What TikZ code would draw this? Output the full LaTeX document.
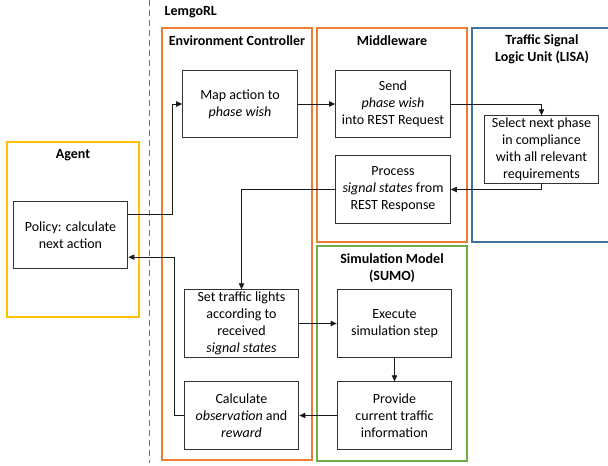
\documentclass[tikz,border=0pt]{standalone}
\usepackage{fontspec}
\setmainfont{Carlito}
\usepackage{tikz}
\usetikzlibrary{shapes, arrows.meta, positioning}
\usetikzlibrary{calc}

\definecolor{ecorange}{HTML}{ED7D31}
\definecolor{lisablue}{HTML}{41719C}
\definecolor{sumogreen}{HTML}{70AD47}
\definecolor{agentyellow}{HTML}{FFC000}

\begin{document}
\begin{tikzpicture}
  [
    x=0.75pt, y=-0.75pt,
    font=\fontsize{10.5}{12.8}\selectfont,
    Step/.style={rectangle, draw=black!80, line width=0.75pt, fill=white, align=center,
      minimum width=86pt, minimum height=50.5pt, inner sep=1pt},
    Group/.style={rectangle, draw=#1, line width=1.6pt, inner sep=0pt},
    Title/.style={font=\fontsize{10.5}{12.8}\selectfont\bfseries, align=center},
    Flow/.style={-{Triangle[length=4.5pt, width=4pt]}, draw, line width=0.6pt, black!90}
  ]
  \useasboundingbox (0,0) rectangle (608,465);
  % Frames
  \node[Group=ecorange, minimum width=112.5pt, minimum height=324pt] (envctrl) at (237,244) {};
  \node[Group=ecorange, minimum width=112.5pt, minimum height=160.5pt] (middleware) at (392,135) {};
  \node[Group=lisablue, minimum width=105pt, minimum height=160.5pt] (lisa) at (542,135) {};
  \node[Group=sumogreen, minimum width=112.5pt, minimum height=161.25pt] (sumo) at (392,353.5) {};
  \node[Group=agentyellow, minimum width=99pt, minimum height=131.25pt] (agent) at (73,229.5) {};
  \coordinate (sepTop) at (149.5,0);
  \coordinate (sepBot) at (149.5,463);
  \path [draw, black!55, line width=1pt, dash pattern=on 4.5pt off 3pt] (sepTop) -- (sepBot);
  % Titles
  \node[Title, anchor=west] (lemgo) at (160,12) {LemgoRL};
  \node[Title] (envtitle) at (237,41) {Environment Controller};
  \node[Title] (midtitle) at (392,41) {Middleware};
  \node[Title] (lisatitle) at (542,49) {Traffic Signal\\Logic Unit (LISA)};
  \node[Title] (agenttitle) at (73,155) {Agent};
  \node[Title] (sumotitle) at (392,268) {Simulation Model\\(SUMO)};
  % Nodes
  \node[Step] (policy) at (70.5,235) {Policy: calculate\\next action};
  \node[Step] (map) at (240,104) {Map action to\\\textit{phase wish}};
  \node[Step] (send) at (393,104) {Send\\\textit{phase wish}\\into REST Request};
  \node[Step] (select) at (541.5,149.5) {Select next phase\\in compliance\\with all relevant\\requirements};
  \node[Step] (process) at (393,189.5) {Process\\\textit{signal states} from\\REST Response};
  \node[Step] (setlights) at (241.5,323.5) {Set traffic lights\\according to\\received\\\textit{signal states}};
  \node[Step] (calc) at (241.5,415.5) {Calculate\\\textit{observation} and\\\textit{reward}};
  \node[Step] (execute) at (394.5,323.5) {Execute\\simulation step};
  \node[Step] (provide) at (394.5,415.5) {Provide\\current traffic\\information};
  % Lines
  \path [Flow] ([yshift=-10.5pt]policy.north east) -| ([xshift=-7.5pt]map.west) -- (map.west);
  \path [Flow] (map) -- (send);
  \path [Flow] (send.east) -| (select.north);
  \path [Flow] (select.south) |- (process.east);
  \path [Flow] (process.west) -| (setlights.north);
  \path [Flow] (setlights) -- (execute);
  \path [Flow] (execute) -- (provide);
  \path [Flow] (provide) -- (calc);
  \path [Flow] (calc.west) -- ([xshift=-6.75pt]calc.west) |- ([yshift=9pt]policy.south east);
\end{tikzpicture}
\end{document}
